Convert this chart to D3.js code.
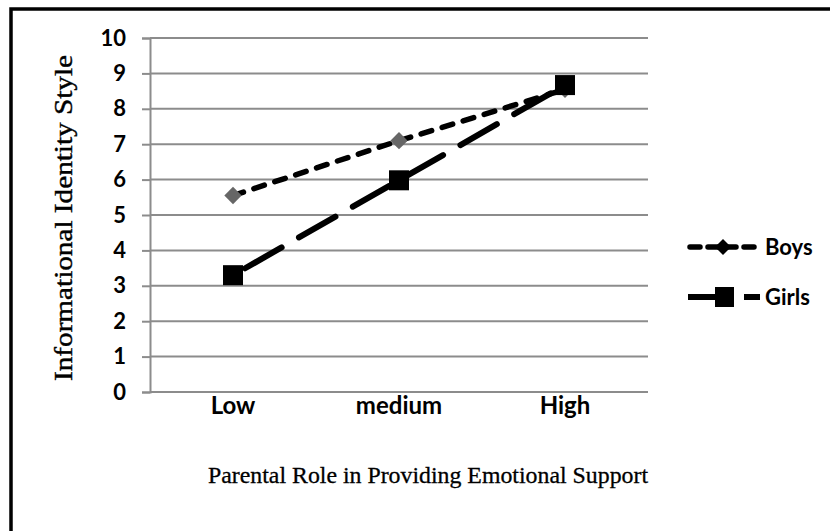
<!DOCTYPE html>
<html><head><meta charset="utf-8">
<script src="https://cdn.jsdelivr.net/npm/d3@7"></script>
<style>body{margin:0;background:#fff}</style>
</head><body>
<svg id="c" width="830" height="531"></svg>
<script>
const categories = ["Low", "medium", "High"];
const boys = [5.55, 7.1, 8.55];
const girls = [3.3, 5.98, 8.67];
const yTicks = [0,1,2,3,4,5,6,7,8,9,10];
const seriesNames = ["Boys", "Girls"];

const svg = d3.select("#c");
const sans = "Lato, 'Open Sans', sans-serif";
const serif = "'Liberation Serif', 'Times New Roman', serif";
// frame
svg.append("path").attr("d","M11,540 L11,9 L840,9").attr("fill","none").attr("stroke","#000").attr("stroke-width",3.5);

const pL=150, pR=648, pT=38, pB=392;
const x = d3.scaleBand().domain(categories).range([pL,pR]);
const y = d3.scaleLinear().domain([0,10]).range([pB,pT]);

// gridlines
svg.append("g").selectAll("line").data(yTicks).join("line")
  .attr("x1",pL).attr("x2",pR).attr("y1",d=>y(d)).attr("y2",d=>y(d))
  .attr("stroke","#8c8c8c").attr("stroke-width",2);

// y axis
const ya = svg.append("g").attr("transform",`translate(${pL},0)`)
  .call(d3.axisLeft(y).tickValues(yTicks).tickSize(8).tickPadding(16));
ya.select(".domain").attr("stroke","#8c8c8c").attr("stroke-width",2);
ya.selectAll(".tick line").attr("stroke","#8c8c8c").attr("stroke-width",2);
ya.selectAll("text").attr("font-family",sans).attr("font-weight","bold").attr("font-size",22).attr("fill","#000");

// x axis
const xa = svg.append("g").attr("transform",`translate(0,${pB})`)
  .call(d3.axisBottom(x).tickSize(0).tickPadding(5));
xa.select(".domain").remove();
xa.selectAll("text").attr("font-family",sans).attr("font-weight","bold").attr("font-size",24).attr("fill","#000");

const line = d3.line().x((d,i)=>x(categories[i])+x.bandwidth()/2).y(d=>y(d));

// girls line
svg.append("path").datum(girls).attr("d",line).attr("fill","none")
  .attr("stroke","#000").attr("stroke-width",6).attr("stroke-dasharray","42,20").attr("stroke-dashoffset",-14).attr("stroke-linecap","round");
// boys line
svg.append("path").datum(boys).attr("d",line).attr("fill","none")
  .attr("stroke","#000").attr("stroke-width",5.5).attr("stroke-dasharray","11,11").attr("stroke-linecap","round");

const diamond = d3.symbol().type(d3.symbolSquare).size(150);
// boys markers
svg.append("g").selectAll("path").data(boys).join("path")
  .attr("d",diamond)
  .attr("transform",(d,i)=>`translate(${x(categories[i])+x.bandwidth()/2},${y(d)}) rotate(45)`)
  .attr("fill","#666");
// girls markers
svg.append("g").selectAll("rect").data(girls).join("rect")
  .attr("x",(d,i)=>x(categories[i])+x.bandwidth()/2-10).attr("y",d=>y(d)-10)
  .attr("width",20).attr("height",20).attr("fill","#000");

// legend
const lg = svg.append("g");
const ly = [247, 297];
// Boys
lg.append("line").attr("x1",690).attr("x2",758).attr("y1",ly[0]).attr("y2",ly[0])
  .attr("stroke","#000").attr("stroke-width",5.5).attr("stroke-dasharray","10,8").attr("stroke-linecap","round");
lg.append("path").attr("d",d3.symbol().type(d3.symbolSquare).size(130)).attr("transform",`translate(723,${ly[0]}) rotate(45)`).attr("fill","#000");
// Girls
lg.append("line").attr("x1",688).attr("x2",760).attr("y1",ly[1]).attr("y2",ly[1])
  .attr("stroke","#000").attr("stroke-width",6).attr("stroke-dasharray","42,14");
lg.append("rect").attr("x",715).attr("y",ly[1]-10).attr("width",19).attr("height",20).attr("fill","#000");
lg.selectAll("text").data(seriesNames).join("text")
  .attr("x",765).attr("y",(d,i)=>ly[i]).attr("dy","0.35em")
  .attr("font-family",sans).attr("font-weight","bold").attr("font-size",22).text(d=>d);

// axis titles
svg.append("text").attr("transform","translate(63,218) rotate(-90)").attr("text-anchor","middle").attr("dy","0.35em")
  .attr("font-family",serif).attr("font-size",26).attr("stroke","#000").attr("stroke-width",0.4)
  .attr("textLength",326).attr("lengthAdjust","spacingAndGlyphs").text("Informational Identity Style");
svg.append("text").attr("x",428).attr("y",475).attr("text-anchor","middle").attr("dy","0.35em")
  .attr("font-family",serif).attr("font-size",24).attr("stroke","#000").attr("stroke-width",0.3)
  .attr("textLength",440).attr("lengthAdjust","spacingAndGlyphs").text("Parental Role in Providing Emotional Support");
</script>
</body></html>
